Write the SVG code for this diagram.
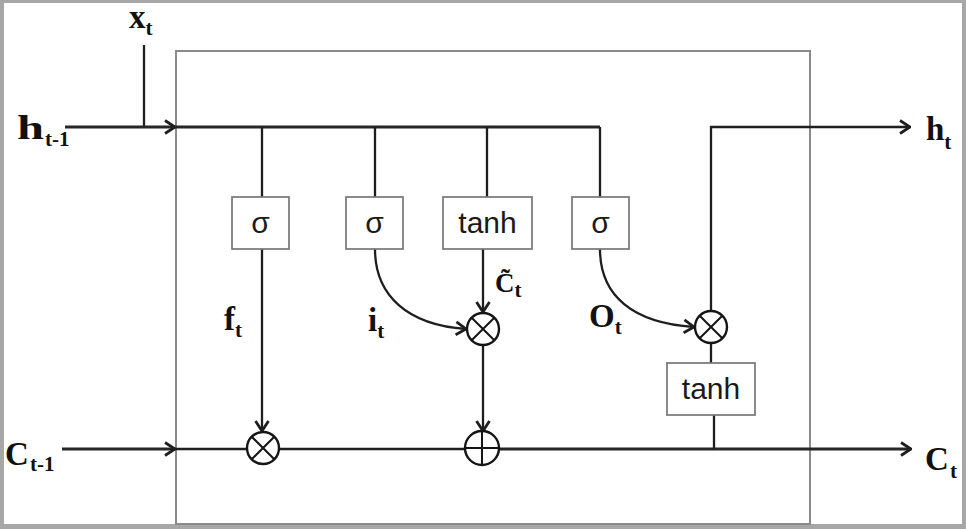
<svg xmlns="http://www.w3.org/2000/svg" width="966" height="529" viewBox="0 0 966 529">
  <style>
    .wire { fill: none; stroke: #1e1e1e; stroke-width: 2.3; }
    .bus { fill: none; stroke: #262626; stroke-width: 2.8; }
    .gate { fill: #fff; stroke: #767676; stroke-width: 1.7; }
    .op { fill: #fff; stroke: #151515; stroke-width: 2.4; }
    .opmark { stroke: #151515; stroke-width: 2; fill: none; }
    .fn { font-family: "Liberation Sans", Arial, sans-serif; font-size: 30px; fill: #1a1a1a; text-anchor: middle; }
    .lbl { font-family: "Liberation Serif", "Times New Roman", serif; font-weight: bold; font-size: 33px; fill: #111; }
    .sub { font-size: 21px; }
  </style>
  <defs>
    <marker id="chev" viewBox="0 0 12 16" refX="11" refY="8" markerWidth="12" markerHeight="16" markerUnits="userSpaceOnUse" orient="auto">
      <path d="M1,1.5 L11,8 L1,14.5" fill="none" stroke="#1e1e1e" stroke-width="2.8"/>
    </marker>
  </defs>

  <!-- frame -->
  <rect x="0" y="0" width="966" height="529" fill="#a7a7a7"/>
  <rect x="4" y="3" width="958" height="521" fill="#fff"/>
  <rect id="cell" x="176" y="51" width="634" height="473" fill="none" stroke="#8a8a8a" stroke-width="2"/>

  <!-- connectors -->
  <g id="connectors">
    <line class="wire" x1="144" y1="45" x2="144" y2="127"/>
    <line class="bus" x1="65" y1="127" x2="175" y2="127" marker-end="url(#chev)"/>
    <line class="bus" x1="175" y1="127" x2="600" y2="127"/>
    <line class="wire" x1="262" y1="127" x2="262" y2="197"/>
    <line class="wire" x1="375" y1="127" x2="375" y2="197"/>
    <line class="wire" x1="487" y1="127" x2="487" y2="197"/>
    <line class="wire" x1="600" y1="127" x2="600" y2="197"/>

    <line class="wire" x1="262" y1="249" x2="262" y2="431" marker-end="url(#chev)"/>
    <path class="wire" d="M375,249 C375,296 408,325 466,329" marker-end="url(#chev)"/>
    <line class="wire" x1="483" y1="249" x2="483" y2="312" marker-end="url(#chev)"/>
    <line class="wire" x1="483" y1="345" x2="483" y2="431" marker-end="url(#chev)"/>
    <path class="wire" d="M600,249 C600,296 633,323 694,327" marker-end="url(#chev)"/>

    <line class="bus" x1="62" y1="449" x2="175" y2="449" marker-end="url(#chev)"/>
    <line class="wire" x1="175" y1="449" x2="247" y2="449"/>
    <line class="wire" x1="279" y1="449" x2="465" y2="449"/>
    <line class="bus" x1="499" y1="449" x2="911" y2="449" marker-end="url(#chev)"/>

    <line class="wire" x1="711" y1="343" x2="711" y2="363"/>
    <line class="wire" x1="714" y1="415" x2="714" y2="449"/>
    <polyline class="wire" points="711,311 711,127 910,127" marker-end="url(#chev)"/>
  </g>

  <!-- gates -->
  <g id="forget-gate">
    <rect class="gate" x="232" y="197" width="57" height="52"/>
    <text class="fn" x="260.5" y="233">σ</text>
  </g>
  <g id="input-gate">
    <rect class="gate" x="346" y="197" width="57" height="52"/>
    <text class="fn" x="374.5" y="233">σ</text>
  </g>
  <g id="candidate">
    <rect class="gate" x="443" y="197" width="89" height="52"/>
    <text class="fn" x="487.5" y="233">tanh</text>
  </g>
  <g id="output-gate">
    <rect class="gate" x="572" y="197" width="57" height="52"/>
    <text class="fn" x="600.5" y="233">σ</text>
  </g>
  <g id="output-tanh">
    <rect class="gate" x="667" y="363" width="88" height="52"/>
    <text class="fn" x="711" y="399">tanh</text>
  </g>

  <!-- pointwise operations -->
  <g id="forget-mul">
    <circle class="op" cx="263" cy="448" r="16"/>
    <path class="opmark" d="M251.7,436.7 L274.3,459.3 M274.3,436.7 L251.7,459.3"/>
  </g>
  <g id="input-mul">
    <circle class="op" cx="483" cy="329" r="16"/>
    <path class="opmark" d="M471.7,317.7 L494.3,340.3 M494.3,317.7 L471.7,340.3"/>
  </g>
  <g id="cell-add">
    <circle class="op" cx="482" cy="448" r="17"/>
    <path class="opmark" d="M465,448 L499,448 M482,431 L482,465"/>
  </g>
  <g id="output-mul">
    <circle class="op" cx="711" cy="327" r="16"/>
    <path class="opmark" d="M699.7,315.7 L722.3,338.3 M722.3,315.7 L699.7,338.3"/>
  </g>

  <!-- labels -->
  <g id="labels">
    <text class="lbl" x="129" y="28">x<tspan class="sub" dy="7">t</tspan></text>
    <text class="lbl" x="17" y="139" textLength="27" lengthAdjust="spacingAndGlyphs">h</text>
    <text class="lbl sub" x="45" y="146">t-1</text>
    <text class="lbl" x="5" y="465">C</text>
    <text class="lbl sub" x="30" y="471">t-1</text>
    <text class="lbl" x="926" y="140">h<tspan class="sub" dy="9">t</tspan></text>
    <text class="lbl" x="925" y="470">C</text>
    <text class="lbl sub" x="950" y="478">t</text>
    <text class="lbl" x="224" y="330">f<tspan class="sub" dy="7">t</tspan></text>
    <text class="lbl" x="368" y="331">i<tspan class="sub" dy="7">t</tspan></text>
    <text class="lbl" x="495" y="292" style="font-size:27px">C̃<tspan class="sub" dy="5">t</tspan></text>
    <text class="lbl" x="589" y="327">O<tspan class="sub" dy="7">t</tspan></text>
  </g>
</svg>
